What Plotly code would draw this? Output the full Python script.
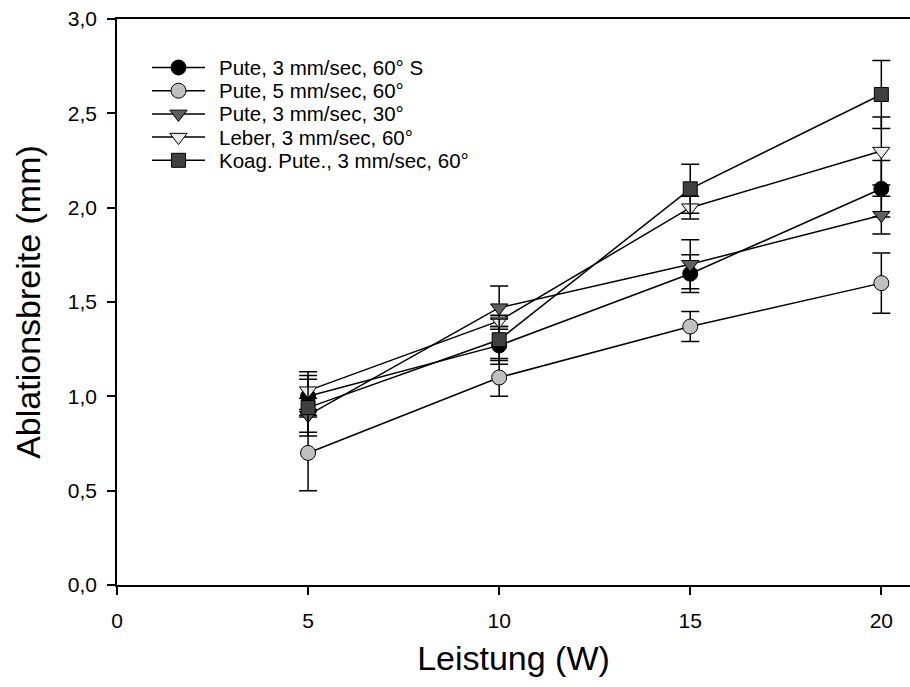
import plotly.graph_objects as go

# Leistung (W)
power = [5, 10, 15, 20]

# Ablationsbreite (mm), Mittelwerte und Standardabweichungen
pute_3_60s = [1.00, 1.27, 1.65, 2.10]
pute_3_60s_err = [0.11, 0.10, 0.10, 0.15]

pute_5_60 = [0.70, 1.10, 1.37, 1.60]
pute_5_60_err = [0.20, 0.10, 0.08, 0.16]

pute_3_30 = [0.90, 1.47, 1.70, 1.96]
pute_3_30_err = [0.09, 0.115, 0.13, 0.10]

leber_3_60 = [1.03, 1.40, 2.00, 2.30]
leber_3_60_err = [0.10, 0.03, 0.06, 0.18]

koag_3_60 = [0.94, 1.30, 2.10, 2.60]
koag_3_60_err = [0.15, 0.11, 0.13, 0.18]

series_names = [
    "Pute, 3 mm/sec, 60° S",
    "Pute, 5 mm/sec, 60°",
    "Pute, 3 mm/sec, 30°",
    "Leber, 3 mm/sec, 60°",
    "Koag. Pute., 3 mm/sec, 60°",
]

y_ticks = [0.0, 0.5, 1.0, 1.5, 2.0, 2.5, 3.0]
x_ticks = [0, 5, 10, 15, 20]

series = [
    (pute_3_60s, pute_3_60s_err, "circle", 15, "#000000"),
    (pute_5_60, pute_5_60_err, "circle", 15, "#c0c0c0"),
    (pute_3_30, pute_3_30_err, "triangle-down", 15, "#5f5f5f"),
    (leber_3_60, leber_3_60_err, "triangle-down", 15, "#ebebeb"),
    (koag_3_60, koag_3_60_err, "square", 14, "#404040"),
]

font_family = "Liberation Sans, Arial, sans-serif"

# Plot frame in pixels (used for the key overlay axes)
W, H = 910, 687
M_L, M_R, M_T, M_B = 117, 0, 19, 102

fig = go.Figure()
for name, (vals, errs, sym, size, color) in zip(series_names, series):
    fig.add_trace(go.Scatter(
        x=power, y=vals, name=name,
        mode="lines+markers",
        line=dict(color="#000000", width=1.5),
        marker=dict(symbol=sym, size=size, color=color,
                    line=dict(color="#000000", width=1)),
        error_y=dict(type="data", array=errs, visible=True,
                     color="#000000", thickness=1.5, width=9),
        showlegend=False,
    ))

# Key: sample line + marker and label per series, on a pixel-scaled overlay axis
key_x0, key_x1, key_text_x = 152, 205, 217
key_y0, key_dy = 67.5, 23.2
annotations = []
for i, (name, (_, _, sym, size, color)) in enumerate(zip(series_names, series)):
    ky = key_y0 + i * key_dy
    kx = (key_x0 + key_x1) / 2
    fig.add_trace(go.Scatter(
        x=[key_x0, kx, key_x1], y=[ky, ky, ky],
        xaxis="x2", yaxis="y2",
        mode="lines", line=dict(color="#000000", width=1.5),
        showlegend=False, hoverinfo="skip",
    ))
    fig.add_trace(go.Scatter(
        x=[kx], y=[ky], xaxis="x2", yaxis="y2",
        mode="markers",
        marker=dict(symbol=sym, size=size, color=color,
                    line=dict(color="#000000", width=1)),
        showlegend=False, hoverinfo="skip",
    ))
    annotations.append(dict(
        x=key_text_x, y=ky, xref="x2", yref="y2",
        text=name, showarrow=False, xanchor="left", yanchor="middle",
        font=dict(size=20.5, family=font_family, color="#000000"),
    ))

fig.update_layout(
    width=W, height=H,
    margin=dict(l=M_L, r=M_R, t=M_T, b=M_B),
    paper_bgcolor="white", plot_bgcolor="white",
    separators=",.",
    font=dict(family=font_family, color="#000000"),
    showlegend=False,
    annotations=annotations,
    xaxis=dict(
        range=[0, 20.75], tickvals=x_ticks,
        ticks="outside", ticklen=8, tickwidth=1.5, tickcolor="#000000",
        showline=True, linecolor="#000000", linewidth=1.5, mirror=True,
        showgrid=False, zeroline=False,
        tickfont=dict(size=21, family=font_family),
        ticklabelstandoff=8,
        title=dict(text="Leistung (W)", font=dict(size=34, family=font_family),
                   standoff=15),
    ),
    yaxis=dict(
        range=[0, 3.0], tickvals=y_ticks, tickformat=".1f",
        ticks="outside", ticklen=8, tickwidth=1.5, tickcolor="#000000",
        showline=True, linecolor="#000000", linewidth=1.5,
        showgrid=False, zeroline=False,
        tickfont=dict(size=21, family=font_family),
        ticklabelstandoff=6,
        title=dict(text="Ablationsbreite (mm)", font=dict(size=34, family=font_family),
                   standoff=17),
    ),
    xaxis2=dict(
        overlaying="x", range=[M_L, W - M_R], visible=False, fixedrange=True,
    ),
    yaxis2=dict(
        overlaying="y", range=[H - M_B, M_T], visible=False, fixedrange=True,
    ),
)

fig.write_html("out.html")
